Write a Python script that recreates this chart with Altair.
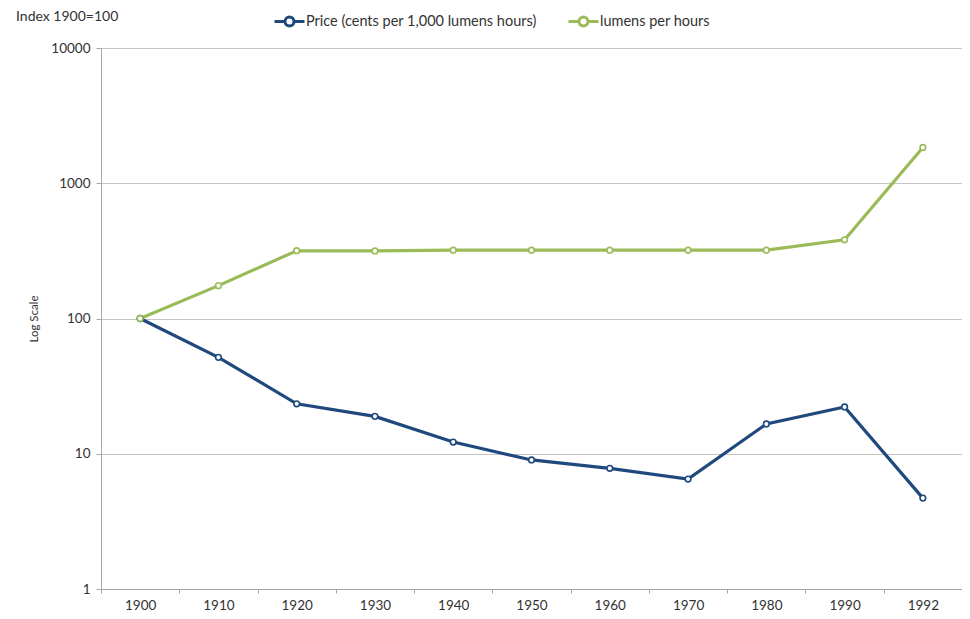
import altair as alt
import pandas as pd

years = ["1900", "1910", "1920", "1930", "1940", "1950", "1960", "1970", "1980", "1990", "1992"]
price = [100, 51.6, 23.4, 18.9, 12.2, 9.0, 7.8, 6.5, 16.6, 22.2, 4.7]
lumens = [100, 175, 317, 316, 320, 320, 320, 320, 320, 382, 1840]
series_names = ["Price (cents per 1,000 lumens hours)", "lumens per hours"]
series_colors = ["#1F497D", "#9BBB59"]
y_ticks = [1, 10, 100, 1000, 10000]
corner_note = ["Index 1900=100"]

rows = []
for name, vals in zip(series_names, [price, lumens]):
    for yr, v in zip(years, vals):
        rows.append({"year": yr, "value": v, "series": name})
df = pd.DataFrame(rows)

FONT = "Lato"
TXT = "#333333"

x = alt.X("year:N", sort=years, title=None,
          scale=alt.Scale(paddingInner=0, paddingOuter=0),
          axis=alt.Axis(labelAngle=0, tickBand="extent", domainColor="#a6a6a6",
                        tickColor="#a6a6a6", tickSize=4, labelPadding=5,
                        labelFont=FONT, labelFontSize=13.5, labelColor=TXT, grid=False))
y = alt.Y("value:Q", title="Log Scale",
          scale=alt.Scale(type="log", domain=[1, 10000]),
          axis=alt.Axis(values=y_ticks, format="d", domainColor="#a6a6a6",
                        tickColor="#a6a6a6", tickSize=5, labelPadding=6,
                        gridColor="#c4c4c4", gridWidth=1.2,
                        labelFont=FONT, labelFontSize=13.5, labelColor=TXT,
                        titleFont=FONT, titleFontSize=11.5, titleFontWeight="normal",
                        titleColor=TXT, titlePadding=11))
color = alt.Color("series:N", sort=series_names,
                  scale=alt.Scale(domain=series_names, range=series_colors),
                  legend=alt.Legend(title=None, orient="none", direction="horizontal",
                                    legendX=172, legendY=-43,
                                    symbolType="M-1,0L-0.3,0M0.3,0L1,0M0.3,0A0.3,0.3,0,1,1,-0.3,0A0.3,0.3,0,1,1,0.3,0",
                                    symbolSize=900, symbolStrokeWidth=3,
                                    symbolFillColor="white", labelOffset=0,
                                    columnPadding=25, labelLimit=400, labelFont=FONT,
                                    labelFontSize=14.5, labelColor=TXT))

base = alt.Chart(df).encode(x=x, y=y, color=color)
lines = base.mark_line(strokeWidth=3.2)
points = base.mark_point(filled=False, fill="white", opacity=1, size=32, strokeWidth=1.6)

note = alt.Chart(pd.DataFrame({"t": corner_note})).mark_text(
    align="left", baseline="middle", font=FONT, fontSize=14, color=TXT
).encode(x=alt.value(-85), y=alt.value(-31), text="t:N")

chart = (lines + points + note).properties(
    width=861, height=541,
    padding={"left": 93, "top": 40, "right": 0, "bottom": 22},
    autosize=alt.AutoSizeParams(type="none"),
).configure_view(stroke=None)

chart.save("out.html", embed_options={"renderer": "svg", "actions": False})
